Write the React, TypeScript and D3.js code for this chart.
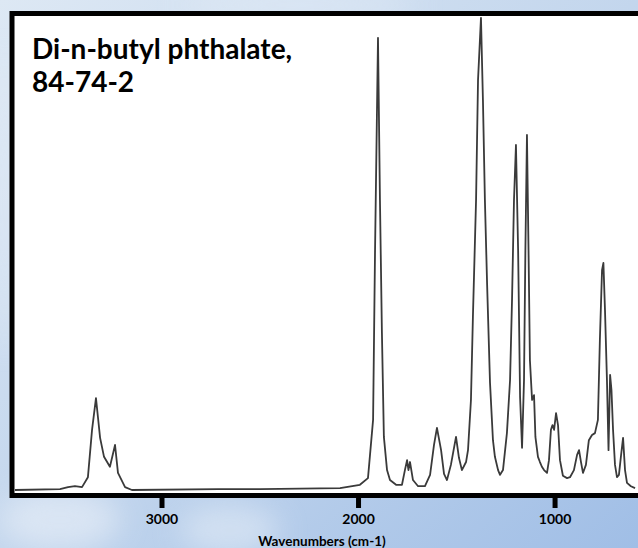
import React from "react";
import * as d3 from "d3";

// Spectrum: wavenumber (cm-1) and relative absorbance
const wavenumbers = [
  3748, 3519, 3478, 3443, 3407, 3377, 3356, 3336, 3326, 3315, 3295, 3265, 3239, 3224, 3188, 3153,
  2715, 2501, 2094, 1993, 1952, 1926, 1916, 1901, 1891, 1881, 1871, 1855, 1840, 1809, 1779, 1764,
  1753, 1746, 1738, 1723, 1697, 1662, 1636, 1616, 1601, 1580, 1565, 1550, 1530, 1504, 1489, 1474,
  1453, 1443, 1428, 1418, 1402, 1392, 1377, 1367, 1357, 1346, 1331, 1316, 1306, 1290, 1280, 1265,
  1245, 1229, 1219, 1209, 1199, 1188, 1178, 1168, 1158, 1151, 1143, 1135, 1128, 1117, 1107, 1100,
  1087, 1077, 1067, 1056, 1041, 1031, 1021, 1013, 1005, 995, 985, 975, 960, 939, 924, 904,
  888, 878, 868, 858, 843, 828, 812, 797, 782, 772, 761, 754, 746, 736, 728, 720,
  713, 705, 695, 685, 675, 664, 654, 644, 634, 614, 593,
];
const absorbance = [
  0, 0.002, 0.006, 0.008, 0.006, 0.027, 0.127, 0.194, 0.154, 0.11, 0.07, 0.049, 0.095, 0.036, 0.006, 0,
  0.002, 0.002, 0.004, 0.011, 0.025, 0.148, 0.506, 0.954, 0.612, 0.331, 0.112, 0.042, 0.021, 0.011, 0.011, 0.042,
  0.063, 0.042, 0.059, 0.021, 0.008, 0.008, 0.032, 0.095, 0.131, 0.084, 0.034, 0.021, 0.053, 0.112, 0.068, 0.042,
  0.059, 0.084, 0.19, 0.365, 0.612, 0.865, 0.996, 0.823, 0.612, 0.437, 0.226, 0.105, 0.07, 0.042, 0.032, 0.042,
  0.12, 0.232, 0.401, 0.612, 0.728, 0.506, 0.196, 0.089, 0.232, 0.506, 0.749, 0.506, 0.274, 0.19, 0.2, 0.112,
  0.07, 0.059, 0.049, 0.042, 0.036, 0.063, 0.127, 0.137, 0.127, 0.162, 0.137, 0.063, 0.03, 0.025, 0.027, 0.042,
  0.074, 0.084, 0.059, 0.036, 0.053, 0.105, 0.116, 0.12, 0.148, 0.316, 0.464, 0.479, 0.38, 0.232, 0.084, 0.243,
  0.211, 0.127, 0.053, 0.027, 0.032, 0.074, 0.11, 0.042, 0.015, 0.008, 0.004,
];
const tickValues = [3000, 2000, 1000];
const titleLines = ["Di-n-butyl phthalate,", "84-74-2"];
const axisLabel = "Wavenumbers (cm-1)";

const W = 638;
const H = 548;

export default function App() {
  const x = d3.scaleLinear().domain([3748, 578]).range([15, 638]);
  const y = d3.scaleLinear().domain([0, 1]).range([490, 16]);
  const data = wavenumbers.map((w, i) => [w, absorbance[i]] as [number, number]);
  const line = d3
    .line<[number, number]>()
    .x((d) => x(d[0]))
    .y((d) => y(d[1]))
    .curve(d3.curveLinear);

  const font = "Lato, 'Open Sans', sans-serif";

  return (
    <svg
      width={W}
      height={H}
      style={{ position: "absolute", left: 0, top: 0, display: "block" }}
    >
      <defs>
        <linearGradient id="bg" x1="0" y1="0" x2="1" y2="1">
          <stop offset="0" stopColor="#dde8f4" />
          <stop offset="0.5" stopColor="#c3d6ed" />
          <stop offset="1" stopColor="#a0bee6" />
        </linearGradient>
        <filter id="blur" x="-50%" y="-50%" width="200%" height="200%">
          <feGaussianBlur stdDeviation="14" />
        </filter>
      </defs>
      <rect x={0} y={0} width={W} height={H} fill="url(#bg)" />
      <g filter="url(#blur)" opacity={0.55}>
        <ellipse cx={60} cy={520} rx={60} ry={30} fill="#eef3f9" />
        <ellipse cx={230} cy={530} rx={50} ry={25} fill="#e6eef7" />
        <ellipse cx={300} cy={5} rx={120} ry={12} fill="#e8eff8" />
        <ellipse cx={5} cy={200} rx={10} ry={150} fill="#eaf0f8" />
      </g>

      <rect x={12} y={13.5} width={640} height={482} fill="#ffffff" stroke="#000" strokeWidth={5} />

      <path d={line(data) || ""} fill="none" stroke="#3a3a3a" strokeWidth={1.8} strokeLinejoin="round" />

      {tickValues.map((t) => (
        <g key={t}>
          <line x1={x(t)} x2={x(t)} y1={497} y2={508} stroke="#000" strokeWidth={5} />
          <text
            x={x(t)}
            y={524}
            textAnchor="middle"
            fontFamily={font}
            fontWeight={700}
            fontSize={14}
            fill="#000"
          >
            {t}
          </text>
        </g>
      ))}

      <text x={322} y={546} textAnchor="middle" fontFamily={font} fontWeight={700} fontSize={13.5} fill="#000">
        {axisLabel}
      </text>

      {titleLines.map((t, i) => (
        <text
          key={i}
          x={32}
          y={59 + i * 33}
          fontFamily={font}
          fontWeight={700}
          fontSize={28}
          fill="#000"
        >
          {t}
        </text>
      ))}
    </svg>
  );
}
